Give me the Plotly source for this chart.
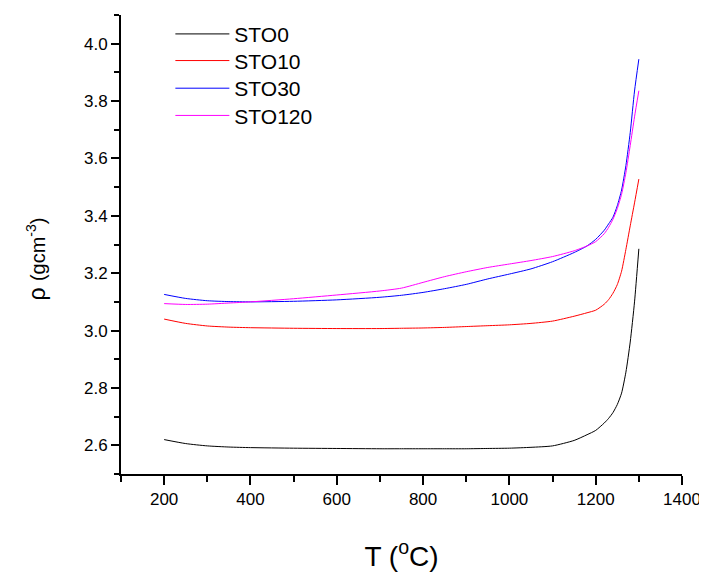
import plotly.graph_objects as go

T = [200, 250, 300, 350, 400, 500, 600, 700, 750, 800, 850, 900, 950, 1000,
     1050, 1100, 1150, 1180, 1200, 1220, 1230, 1240, 1250, 1260, 1270, 1280, 1290, 1300]

sto0 = [2.620, 2.606, 2.598, 2.594, 2.592, 2.590, 2.589, 2.588, 2.588, 2.588, 2.588, 2.588, 2.589, 2.590,
        2.593, 2.598, 2.617, 2.637, 2.652, 2.678, 2.694, 2.714, 2.742, 2.782, 2.855, 2.960, 3.100, 3.285]
sto10 = [3.040, 3.025, 3.016, 3.012, 3.010, 3.008, 3.007, 3.007, 3.008, 3.009, 3.011, 3.014, 3.017, 3.020,
         3.025, 3.033, 3.050, 3.062, 3.071, 3.092, 3.108, 3.130, 3.160, 3.207, 3.283, 3.365, 3.445, 3.528]
sto30 = [3.126, 3.112, 3.104, 3.101, 3.100, 3.102, 3.107, 3.116, 3.123, 3.133, 3.146, 3.161, 3.180, 3.197,
         3.215, 3.240, 3.272, 3.295, 3.318, 3.350, 3.372, 3.395, 3.435, 3.490, 3.575, 3.690, 3.835, 3.946]
sto120 = [3.094, 3.091, 3.092, 3.096, 3.100, 3.111, 3.124, 3.138, 3.148, 3.168, 3.188, 3.205, 3.220, 3.232,
          3.244, 3.258, 3.278, 3.295, 3.310, 3.338, 3.360, 3.388, 3.425, 3.475, 3.550, 3.645, 3.745, 3.836]

names = ["STO0", "STO10", "STO30", "STO120"]
series = [sto0, sto10, sto30, sto120]
colors = ["#000000", "#ff0000", "#0000ff", "#ff00ff"]

FONT = "Liberation Sans, Arial, sans-serif"

# the page body adds an 8px margin, so the figure is drawn 8px smaller
W, H = 699, 565
L, R, TOP, B = 113, 22, 6, 99
PH = H - TOP - B

legend_ids = ["legend", "legend2", "legend3", "legend4"]
row_centers = [25.3, 52.0, 79.7, 107.0]  # figure px, one legend per row

fig = go.Figure()
for n, s, c, lg in zip(names, series, colors, legend_ids):
    fig.add_trace(go.Scatter(x=T, y=s, name=n, mode="lines", legend=lg,
                             line=dict(color=c, width=1, shape="spline", smoothing=0.6)))

legends = {}
for lg, yc in zip(legend_ids, row_centers):
    legends[lg] = dict(x=0.088, y=(H - B - yc) / PH, xanchor="left", yanchor="middle",
                       font=dict(size=21, family=FONT), itemwidth=54,
                       bgcolor="rgba(0,0,0,0)")

fig.update_layout(
    width=W, height=H,
    margin=dict(l=L, r=R, t=TOP, b=B),
    paper_bgcolor="white", plot_bgcolor="white",
    font=dict(family=FONT, color="black", size=17),
    showlegend=True,
    xaxis=dict(range=[100, 1400], tick0=200, dtick=200, ticks="outside", ticklen=9,
               tickwidth=1.5, tickcolor="black", showline=True, linewidth=2, linecolor="black",
               showgrid=False, zeroline=False, tickfont=dict(size=17),
               minor=dict(dtick=100, tick0=100, ticks="outside", ticklen=6, tickwidth=1.5,
                          tickcolor="black", showgrid=False),
               title=dict(text="T (<sup>o</sup>C)", font=dict(size=28), standoff=38)),
    yaxis=dict(range=[2.5, 4.1], tick0=2.6, dtick=0.2, tickformat=".1f", ticks="outside",
               ticklen=8, tickwidth=1.5, tickcolor="black", showline=True, linewidth=2,
               linecolor="black", showgrid=False, zeroline=False, tickfont=dict(size=17),
               minor=dict(dtick=0.1, tick0=2.5, ticks="outside", ticklen=5, tickwidth=1.5,
                          tickcolor="black", showgrid=False)),
    annotations=[dict(text="ρ <span style='font-size:20px'>(gcm<sup>-3</sup>)</span>",
                      xref="paper", yref="paper", x=(28 - L) / 563.5, y=0.468,
                      xanchor="center", yanchor="middle", textangle=-90, showarrow=False,
                      font=dict(size=23, family=FONT))],
    **legends,
)

fig.write_html("out.html")
